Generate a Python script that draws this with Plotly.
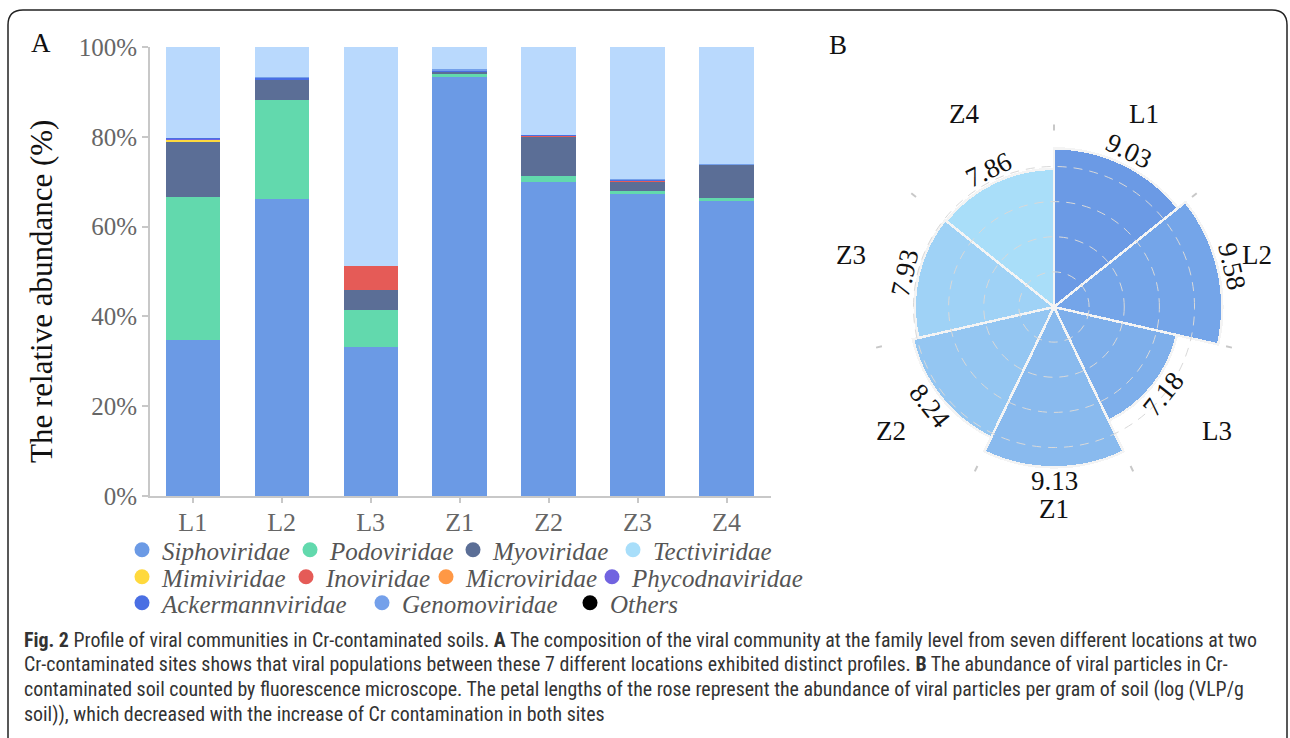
import math
import plotly.graph_objects as go

W, H = 1290, 738

# ---------------------------------------------------------------- data
sites = ["L1", "L2", "L3", "Z1", "Z2", "Z3", "Z4"]

# relative abundance (%) of each viral family per site
siphoviridae     = [34.7, 66.1, 33.2, 93.3, 69.9, 67.3, 65.7]
podoviridae      = [31.9, 22.1, 8.2, 0.7, 1.3, 0.65, 0.7]
myoviridae       = [12.3, 4.5, 4.5, 0.45, 8.9, 2.1, 7.35]
tectiviridae     = [20.2, 6.8, 48.8, 4.8, 19.6, 29.4, 26.0]
mimiviridae      = [0.4, 0.05, 0.0, 0.02, 0.02, 0.02, 0.02]
inoviridae       = [0.1, 0.05, 5.3, 0.02, 0.1, 0.25, 0.02]
microviridae     = [0.1, 0.02, 0.0, 0.02, 0.02, 0.02, 0.02]
phycodnaviridae  = [0.05, 0.05, 0.0, 0.05, 0.15, 0.02, 0.02]
ackermannviridae = [0.2, 0.3, 0.0, 0.3, 0.02, 0.2, 0.1]
genomoviridae    = [0.05, 0.05, 0.0, 0.3, 0.02, 0.02, 0.1]
others           = [0.0, 0.0, 0.0, 0.0, 0.0, 0.0, 0.0]

y_ticks = [0, 20, 40, 60, 80, 100]
y_tick_labels = ["0%", "20%", "40%", "60%", "80%", "100%"]

# viral particle abundance, log(VLP/g soil)
vlp_log = [9.03, 9.58, 7.18, 9.13, 8.24, 7.93, 7.86]
radial_grid = [2, 4, 6, 8, 10]

caption_lines = [
    "<b>Fig. 2</b> Profile of viral communities in Cr-contaminated soils. <b>A</b> The composition "
    "of the viral community at the family level from seven different locations at two",
    "Cr-contaminated sites shows that viral populations between these 7 different locations "
    "exhibited distinct profiles. <b>B</b> The abundance of viral particles in Cr-",
    "contaminated soil counted by fluorescence microscope. The petal lengths of the rose represent "
    "the abundance of viral particles per gram of soil (log (VLP/g",
    "soil)), which decreased with the increase of Cr contamination in both sites",
]

# ---------------------------------------------------------------- styles
SERIF = "Liberation Serif, Times New Roman, serif"
CAPTION_FONT = "Roboto Condensed, Roboto, sans-serif"
family_colors = {
    "Siphoviridae": "#6b9ae5",
    "Podoviridae": "#62d9ad",
    "Myoviridae": "#5b6e96",
    "Tectiviridae": "#b9d9fd",
    "Mimiviridae": "#ffd93d",
    "Inoviridae": "#e55b57",
    "Microviridae": "#ff9845",
    "Phycodnaviridae": "#7163e0",
    "Ackermannviridae": "#4a6fe3",
    "Genomoviridae": "#74a0ea",
    "Others": "#000000",
}
legend_marker_colors = dict(family_colors, Tectiviridae="#a8defa")
petal_colors = ["#6b9ae5", "#74a5e9", "#7eafeb", "#89baee",
                "#94c6f2", "#9fd2f6", "#a9def9"]

# order of the stacked segments, bottom to top
stack = [
    ("Siphoviridae", siphoviridae),
    ("Podoviridae", podoviridae),
    ("Myoviridae", myoviridae),
    ("Mimiviridae", mimiviridae),
    ("Inoviridae", inoviridae),
    ("Microviridae", microviridae),
    ("Phycodnaviridae", phycodnaviridae),
    ("Ackermannviridae", ackermannviridae),
    ("Genomoviridae", genomoviridae),
    ("Others", others),
    ("Tectiviridae", tectiviridae),
]

# legend entries: (family, symbol centre x px, row centre y px)
legend_slots = [
    ("Siphoviridae", 142, 550), ("Podoviridae", 310, 550),
    ("Myoviridae", 473, 550), ("Tectiviridae", 633, 550),
    ("Mimiviridae", 142, 577), ("Inoviridae", 306, 577),
    ("Microviridae", 446, 577), ("Phycodnaviridae", 612, 577),
    ("Ackermannviridae", 142, 603), ("Genomoviridae", 382, 603),
    ("Others", 590, 603),
]


def px_x(x):
    return x / W


def px_y(y):
    return 1 - y / H


fig = go.Figure()

# ---------------------------------------------------------------- panel A
for name, vals in stack:
    fig.add_trace(go.Bar(
        x=sites, y=vals, name=name,
        marker=dict(color=family_colors[name], line=dict(width=0)),
        showlegend=False, hoverinfo="x+y+name",
    ))

legend_style = dict(orientation="h", xanchor="left", yanchor="middle",
                    bgcolor="rgba(0,0,0,0)", borderwidth=0, traceorder="normal",
                    font=dict(family=SERIF, size=25, color="#555", style="italic"),
                    itemclick=False, itemdoubleclick=False)
legend_layout = {}
for k, (name, sx, sy) in enumerate(legend_slots):
    lid = "legend" if k == 0 else f"legend{k + 1}"
    fig.add_trace(go.Scatter(
        x=[None], y=[None], mode="markers", name=name,
        marker=dict(size=15, color=legend_marker_colors[name], symbol="circle"),
        legend=lid, hoverinfo="skip",
    ))
    legend_layout[lid] = dict(x=px_x(sx - 20), y=px_y(sy), **legend_style)

# ---------------------------------------------------------------- panel B
step = 360 / len(sites)
fig.add_trace(go.Barpolar(
    r=vlp_log, theta=sites, subplot="polar",
    marker=dict(color=petal_colors, line=dict(color="#f4f4f4", width=2.5)),
    showlegend=False,
))
# overlay subplot carrying the dashed rings and the sector ticks
fig.add_trace(go.Scatterpolar(r=[None], theta=[None], subplot="polar2",
                              showlegend=False, hoverinfo="skip"))

POL_X0, POL_X1 = 878, 1230
POL_Y0, POL_Y1 = 131, 483
R_MAX = 10.02
cx, cy = (POL_X0 + POL_X1) / 2, (POL_Y0 + POL_Y1) / 2
R_PX = (POL_X1 - POL_X0) / 2


def polar_point(angle_deg, radius_px, dy=0.0):
    a = math.radians(angle_deg)
    return (px_x(cx + radius_px * math.sin(a)),
            px_y(cy - radius_px * math.cos(a) + dy))


annotations = []
for i, (site, v) in enumerate(zip(sites, vlp_log)):
    ang = (i + 0.5) * step
    # value along the outer edge of each petal
    vx, vy = polar_point(ang, v / R_MAX * R_PX + 14)
    tilt = ang if ang <= 90 else (ang - 180 if ang <= 270 else ang - 360)
    annotations.append(dict(
        x=vx, y=vy, xref="paper", yref="paper", text=f"{v:.2f}",
        showarrow=False, textangle=tilt, xanchor="center", yanchor="middle",
        font=dict(family=SERIF, size=27, color="#111"),
    ))
    # site name outside the ring
    lx, ly = polar_point(ang, 208, dy=-6)
    annotations.append(dict(
        x=lx, y=ly, xref="paper", yref="paper", text=site, showarrow=False,
        xanchor="center", yanchor="middle",
        font=dict(family=SERIF, size=27, color="#111"),
    ))

# panel letters and axis title
annotations += [
    dict(x=px_x(41), y=px_y(43), text="A", showarrow=False, xref="paper", yref="paper",
         xanchor="center", yanchor="middle",
         font=dict(family=SERIF, size=27, color="#111")),
    dict(x=px_x(838), y=px_y(45), text="B", showarrow=False, xref="paper", yref="paper",
         xanchor="center", yanchor="middle",
         font=dict(family=SERIF, size=27, color="#111")),
    dict(x=px_x(42), y=px_y(292), text="The relative abundance (%)", textangle=-90,
         showarrow=False, xref="paper", yref="paper", xanchor="center", yanchor="middle",
         font=dict(family=SERIF, size=31, color="#111")),
]
# caption, one annotation per line
for j, line in enumerate(caption_lines):
    annotations.append(dict(
        x=px_x(22), y=px_y(640 + 24.7 * j), xanchor="left", yanchor="middle",
        align="left", xref="paper", yref="paper", showarrow=False, text=line,
        font=dict(family=CAPTION_FONT, size=19.9, color="#333"),
    ))

# rounded frame around the figure
fx0, fx1, fy0, fy1, rr = 8, 1287, 10, 760, 15
frame_path = (f"M {px_x(fx0)},{px_y(fy1)} L {px_x(fx0)},{px_y(fy0 + rr)} "
              f"Q {px_x(fx0)},{px_y(fy0)} {px_x(fx0 + rr)},{px_y(fy0)} "
              f"L {px_x(fx1 - rr)},{px_y(fy0)} "
              f"Q {px_x(fx1)},{px_y(fy0)} {px_x(fx1)},{px_y(fy0 + rr)} "
              f"L {px_x(fx1)},{px_y(fy1)}")

axis_grey = "#c8c8c8"
fig.update_layout(
    width=W, height=H,
    margin=dict(l=0, r=0, t=0, b=0, pad=0, autoexpand=False),
    paper_bgcolor="white", plot_bgcolor="white",
    barmode="stack", bargap=0.39,
    xaxis=dict(domain=[px_x(150), px_x(771)], type="category", range=[-0.48, 6.5],
               showline=True, linecolor=axis_grey, linewidth=2,
               ticks="outside", ticklen=5, tickcolor=axis_grey, tickwidth=2,
               ticklabelstandoff=-3,
               tickfont=dict(family=SERIF, size=26, color="#666"), showgrid=False),
    yaxis=dict(domain=[px_y(496), px_y(47)], range=[0, 100],
               tickmode="array", tickvals=y_ticks, ticktext=y_tick_labels,
               showline=True, linecolor=axis_grey, linewidth=2,
               ticks="outside", ticklen=6, tickcolor=axis_grey, tickwidth=2,
               tickfont=dict(family=SERIF, size=25, color="#666"),
               showgrid=False, zeroline=False),
    polar=dict(
        domain=dict(x=[px_x(POL_X0), px_x(POL_X1)], y=[px_y(POL_Y1), px_y(POL_Y0)]),
        bgcolor="rgba(0,0,0,0)", bargap=0, hole=0,
        radialaxis=dict(range=[0, R_MAX], visible=False, showgrid=False),
        angularaxis=dict(type="category", direction="clockwise", rotation=90 - step / 2,
                         showgrid=False, showline=False, ticks="", showticklabels=False),
    ),
    polar2=dict(
        domain=dict(x=[px_x(POL_X0), px_x(POL_X1)], y=[px_y(POL_Y1), px_y(POL_Y0)]),
        bgcolor="rgba(0,0,0,0)",
        radialaxis=dict(range=[0, R_MAX], tickvals=radial_grid, showticklabels=False,
                        showline=False, ticks="", showgrid=True,
                        gridcolor="#d9d9d9", gridwidth=1.3, griddash="9px,7px"),
        angularaxis=dict(type="linear", thetaunit="degrees", direction="clockwise",
                         rotation=90, tickvals=[i * step for i in range(len(sites))],
                         showticklabels=False, ticks="outside", ticklen=6,
                         tickcolor=axis_grey, tickwidth=2,
                         showgrid=False, showline=False),
    ),
    annotations=annotations,
    shapes=[dict(type="path", xref="paper", yref="paper", path=frame_path,
                 line=dict(color="#222", width=1.5))],
    showlegend=True,
    **legend_layout,
)

fig.write_html("out.html")
